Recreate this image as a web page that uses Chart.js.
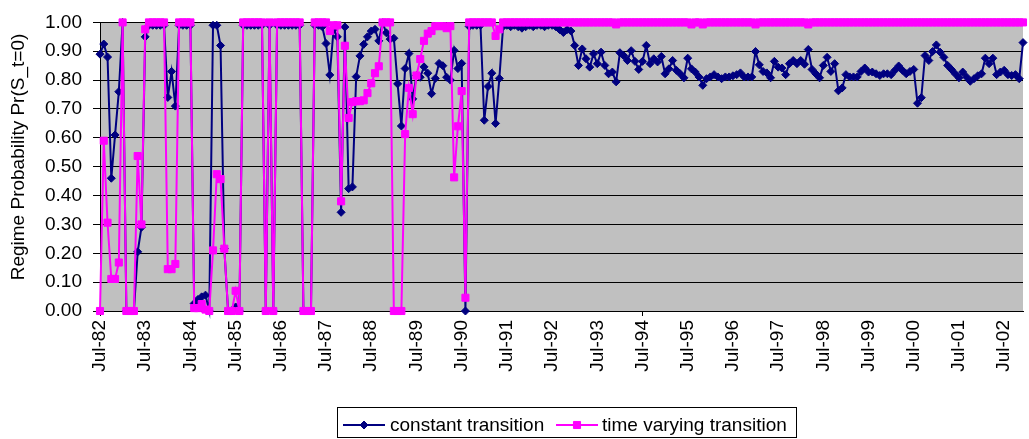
<!DOCTYPE html>
<html>
<head>
<meta charset="utf-8">
<title>Regime Probability</title>
<script src="https://cdn.jsdelivr.net/npm/chart.js@4.4.1/dist/chart.umd.min.js"></script>
<style>
  html, body { margin: 0; padding: 0; background: #fff; }
  #wrap { width: 1029px; height: 439px; }
</style>
</head>
<body>
<div id="wrap"><canvas id="regimeChart" width="1029" height="439"></canvas></div>
<script>
// monthly observations, Jul-82 .. Dec-02
const monthAbbr = ['Jan', 'Feb', 'Mar', 'Apr', 'May', 'Jun', 'Jul', 'Aug', 'Sep', 'Oct', 'Nov', 'Dec'];
const firstYear = 82;
const firstMonth = 6; // Jul
const labelEvery = 12;

const seriesNames = ['constant transition', 'time varying transition'];

const constantTransition = [
  0.89, 0.925, 0.88, 0.46, 0.61, 0.76, 1.00, 0.00, 0.00, 0.00, 0.205, 0.29,
  0.95, 0.99, 0.99, 0.99, 0.99, 0.99, 0.74, 0.83, 0.71, 0.99, 0.99, 0.99,
  0.99, 0.026, 0.04, 0.049, 0.055, 0.00, 0.99, 0.99, 0.92, 0.216, 0.00, 0.00,
  0.014, 0.00, 0.99, 0.99, 0.99, 0.99, 0.99, 0.99, 0.00, 0.99, 0.00, 0.99,
  0.99, 0.99, 0.99, 0.99, 0.99, 0.99, 0.00, 0.00, 0.00, 0.99, 0.99, 0.985,
  0.927, 0.818, 0.976, 0.95, 0.342, 0.984, 0.424, 0.43, 0.812, 0.884, 0.924, 0.95,
  0.97, 0.976, 0.936, 0.999, 0.964, 0.942, 0.945, 0.787, 0.641, 0.84, 0.892, 0.735,
  0.816, 0.81, 0.846, 0.824, 0.753, 0.806, 0.858, 0.85, 0.81, 0.80, 0.903, 0.84,
  0.858, 0.00, 0.986, 0.99, 0.99, 0.99, 0.661, 0.778, 0.824, 0.65, 0.806, 0.986,
  0.99, 0.985, 0.99, 0.985, 0.98, 0.985, 0.99, 0.985, 0.99, 0.99, 0.985, 0.99,
  0.99, 0.985, 0.975, 0.965, 0.975, 0.97, 0.92, 0.851, 0.908, 0.874, 0.845, 0.891,
  0.857, 0.897, 0.851, 0.822, 0.828, 0.794, 0.895, 0.885, 0.868, 0.902, 0.865, 0.837,
  0.865, 0.92, 0.857, 0.874, 0.863, 0.882, 0.822, 0.839, 0.868, 0.834, 0.822, 0.808,
  0.876, 0.839, 0.828, 0.811, 0.782, 0.805, 0.811, 0.819, 0.811, 0.805, 0.811, 0.811,
  0.815, 0.819, 0.825, 0.811, 0.811, 0.811, 0.899, 0.853, 0.83, 0.825, 0.808, 0.865,
  0.845, 0.842, 0.819, 0.857, 0.868, 0.857, 0.868, 0.855, 0.906, 0.837, 0.822, 0.808,
  0.851, 0.879, 0.83, 0.857, 0.763, 0.773, 0.819, 0.811, 0.811, 0.811, 0.83, 0.842,
  0.828, 0.828, 0.822, 0.816, 0.822, 0.822, 0.819, 0.834, 0.849, 0.834, 0.822, 0.83,
  0.837, 0.72, 0.739, 0.885, 0.868, 0.899, 0.922, 0.897, 0.879, 0.851, 0.837, 0.822,
  0.808, 0.828, 0.811, 0.796, 0.805, 0.815, 0.822, 0.876, 0.857, 0.876, 0.819, 0.828,
  0.834, 0.819, 0.816, 0.819, 0.805, 0.93
];

const timeVaryingTransition = [
  0.00, 0.59, 0.306, 0.111, 0.111, 0.168, 1.00, 0.00, 0.00, 0.00, 0.537, 0.30,
  0.976, 1.00, 1.00, 1.00, 1.00, 1.00, 0.145, 0.145, 0.163, 1.00, 1.00, 1.00,
  1.00, 0.01, 0.01, 0.024, 0.005, 0.00, 0.21, 0.474, 0.457, 0.216, 0.00, 0.00,
  0.07, 0.00, 1.00, 1.00, 1.00, 1.00, 1.00, 1.00, 0.00, 1.00, 0.00, 1.00,
  1.00, 1.00, 1.00, 1.00, 1.00, 1.00, 0.00, 0.00, 0.00, 1.00, 1.00, 1.00,
  1.00, 0.97, 0.99, 0.99, 0.38, 0.919, 0.669, 0.724, 0.727, 0.727, 0.73, 0.755,
  0.789, 0.824, 0.848, 1.00, 1.00, 1.00, 0.00, 0.00, 0.00, 0.613, 0.773, 0.682,
  0.816, 0.873, 0.936, 0.961, 0.97, 0.987, 0.987, 0.987, 0.98, 0.987, 0.463, 0.64,
  0.762, 0.046, 1.00, 1.00, 1.00, 1.00, 1.00, 1.00, 1.00, 0.953, 0.976, 1.00,
  1.00, 1.00, 1.00, 1.00, 1.00, 1.00, 1.00, 1.00, 1.00, 1.00, 1.00, 1.00,
  1.00, 1.00, 1.00, 1.00, 1.00, 1.00, 1.00, 1.00, 1.00, 1.00, 1.00, 1.00,
  1.00, 1.00, 1.00, 1.00, 1.00, 0.993, 1.00, 1.00, 1.00, 1.00, 1.00, 1.00,
  1.00, 1.00, 1.00, 1.00, 1.00, 1.00, 1.00, 1.00, 1.00, 1.00, 1.00, 1.00,
  1.00, 0.993, 1.00, 1.00, 0.993, 1.00, 1.00, 1.00, 1.00, 1.00, 1.00, 1.00,
  1.00, 1.00, 1.00, 1.00, 1.00, 1.00, 0.993, 1.00, 1.00, 1.00, 1.00, 1.00,
  1.00, 1.00, 1.00, 1.00, 1.00, 1.00, 1.00, 1.00, 0.993, 1.00, 1.00, 1.00,
  1.00, 1.00, 1.00, 1.00, 1.00, 1.00, 1.00, 1.00, 1.00, 1.00, 1.00, 1.00,
  1.00, 1.00, 1.00, 1.00, 1.00, 1.00, 1.00, 1.00, 1.00, 1.00, 1.00, 1.00,
  1.00, 1.00, 1.00, 1.00, 1.00, 1.00, 1.00, 1.00, 1.00, 1.00, 1.00, 1.00,
  1.00, 1.00, 1.00, 1.00, 1.00, 1.00, 1.00, 1.00, 1.00, 1.00, 1.00, 1.00,
  1.00, 1.00, 1.00, 1.00, 1.00, 1.00
];

// category labels like "Jul-82"
const months = constantTransition.map((v, i) => {
  const m = (firstMonth + i) % 12;
  const y = (firstYear + Math.floor((firstMonth + i) / 12)) % 100;
  return monthAbbr[m] + '-' + String(y).padStart(2, '0');
});

const fontFamily = '"Liberation Sans", Arial, sans-serif';
Chart.defaults.font.family = fontFamily;
Chart.defaults.font.size = 19;
Chart.defaults.color = '#000';

const blue = '#000080';
const pink = '#ff00ff';

// gray plot area, y title and the boxed legend at the bottom
const excelFrame = {
  id: 'excelFrame',
  beforeDraw(chart) {
    const { ctx, chartArea: a } = chart;
    ctx.save();
    ctx.fillStyle = '#fff';
    ctx.fillRect(0, 0, chart.width, chart.height);
    ctx.fillStyle = '#c0c0c0';
    ctx.fillRect(a.left, a.top, a.right - a.left, a.bottom - a.top);
    ctx.restore();
  },
  afterDraw(chart) {
    const ctx = chart.ctx;
    ctx.save();
    ctx.fillStyle = '#000';
    ctx.font = '19px ' + fontFamily;

    // value axis title
    ctx.save();
    ctx.translate(24, 157);
    ctx.rotate(-Math.PI / 2);
    ctx.textAlign = 'center';
    ctx.textBaseline = 'alphabetic';
    ctx.fillText('Regime Probability Pr(S_t=0)', 0, 0);
    ctx.restore();

    // legend
    ctx.strokeStyle = '#000';
    ctx.lineWidth = 1;
    ctx.strokeRect(337.5, 407.5, 459, 30);
    const items = [
      { x0: 343, x1: 385, tx: 390 },
      { x0: 556, x1: 598, tx: 602 }
    ];
    chart.data.datasets.forEach((ds, k) => {
      const it = items[k];
      const ly = 425;
      ctx.strokeStyle = ds.borderColor;
      ctx.lineWidth = ds.borderWidth;
      ctx.beginPath();
      ctx.moveTo(it.x0, ly);
      ctx.lineTo(it.x1, ly);
      ctx.stroke();
      ctx.fillStyle = ds.pointBackgroundColor;
      ctx.strokeStyle = ds.pointBorderColor;
      ctx.lineWidth = ds.pointBorderWidth;
      Chart.helpers.drawPoint(ctx, {
        pointStyle: ds.pointStyle, radius: ds.pointRadius, borderWidth: ds.pointBorderWidth, rotation: 0
      }, (it.x0 + it.x1) / 2, ly);
      ctx.fillStyle = '#000';
      ctx.textAlign = 'left';
      ctx.textBaseline = 'alphabetic';
      ctx.fillText(ds.label, it.tx, 431);
    });
    ctx.restore();
  }
};

new Chart(document.getElementById('regimeChart'), {
  type: 'line',
  data: {
    labels: months,
    datasets: [
      {
        label: seriesNames[0],
        data: constantTransition,
        borderColor: blue,
        borderWidth: 2,
        pointStyle: 'rectRot',
        pointRadius: 4,
        pointBackgroundColor: blue,
        pointBorderColor: blue,
        pointBorderWidth: 1,
        tension: 0,
        clip: false,
        order: 1
      },
      {
        label: seriesNames[1],
        data: timeVaryingTransition,
        borderColor: pink,
        borderWidth: 2,
        pointStyle: 'rect',
        pointRadius: 5,
        pointBackgroundColor: pink,
        pointBorderColor: pink,
        pointBorderWidth: 1,
        tension: 0,
        clip: false,
        order: 0
      }
    ]
  },
  options: {
    responsive: false,
    animation: false,
    events: [],
    layout: { padding: { top: 20, right: 0, bottom: 0, left: 0 } },
    plugins: {
      legend: { display: false },
      tooltip: { enabled: false }
    },
    scales: {
      x: {
        type: 'category',
        offset: false,
        grid: {
          drawOnChartArea: false,
          drawTicks: true,
          tickLength: 5,
          color: (c) => (c.index % labelEvery === 0 ? '#000' : 'rgba(0,0,0,0)')
        },
        border: { color: '#000', width: 1 },
        ticks: {
          autoSkip: false,
          maxRotation: 90,
          minRotation: 90,
          padding: 4,
          callback: function (value, index) {
            return index % labelEvery === 0 ? this.getLabelForValue(value) : null;
          }
        },
        afterFit(scale) {
          scale.height = 128;
          scale.paddingLeft = 0;
          scale.paddingRight = 0;
        }
      },
      y: {
        min: 0,
        max: 1,
        ticks: {
          stepSize: 0.1,
          padding: 11,
          callback: (v) => v.toFixed(2)
        },
        grid: { color: '#000', lineWidth: 1, tickLength: 7 },
        border: { color: '#000', width: 1 },
        afterFit(scale) {
          scale.width = 100;
        }
      }
    }
  },
  plugins: [excelFrame]
});
</script>
</body>
</html>
